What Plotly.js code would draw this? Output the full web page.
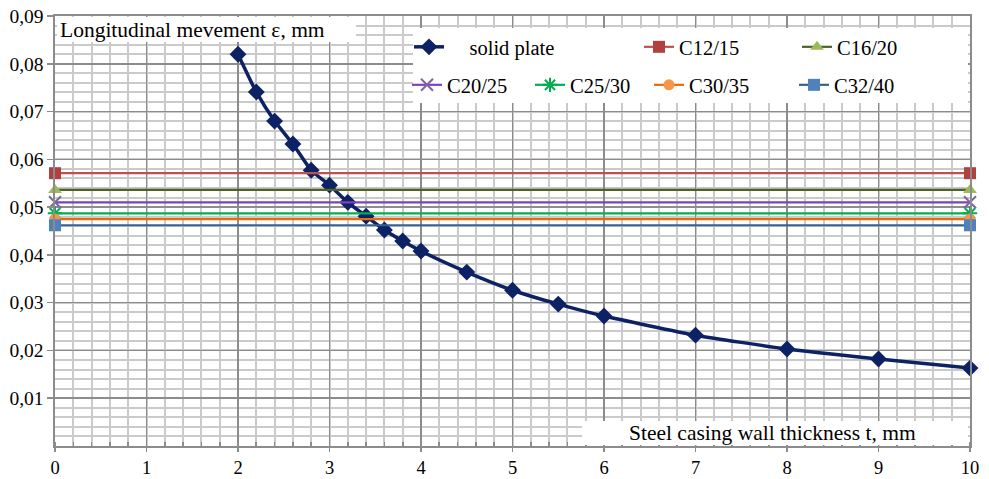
<!DOCTYPE html>
<html><head><meta charset="utf-8">
<script src="https://cdn.plot.ly/plotly-3.0.1.min.js"></script>
<style>html,body{margin:0;padding:0;background:#fff}#c{width:989px;height:479px}</style>
</head><body><div id="c"></div>
<script>
const thickness = [2, 2.2, 2.4, 2.6, 2.8, 3, 3.2, 3.4, 3.6, 3.8, 4, 4.5, 5, 5.5, 6, 7, 8, 9, 10];
const solidPlate = [0.082, 0.0741, 0.068, 0.0632, 0.0577, 0.0546, 0.051, 0.0481, 0.0452, 0.0429, 0.0408, 0.0364, 0.0326, 0.0297, 0.0272, 0.0232, 0.0203, 0.0182, 0.0163];
const concreteNames = ["C12/15", "C16/20", "C20/25", "C25/30", "C30/35", "C32/40"];
const concreteValues = [0.0571, 0.0536, 0.0510, 0.0487, 0.0475, 0.0462];
const concreteX = [0, 10];
const yTicks = [0.01, 0.02, 0.03, 0.04, 0.05, 0.06, 0.07, 0.08, 0.09];
const xTicks = [0, 1, 2, 3, 4, 5, 6, 7, 8, 9, 10];

const FONT = "Liberation Serif";
const lineColors = ["#C0504D", "#4F6228", "#7F40BF", "#00B050", "#E46C0A", "#376092"];
const markerColors = ["#B0413E", "#9BBB59", "#8064A2", "#00B050", "#F79646", "#4F81BD"];
const symbols = ["square", "triangle-up", "x-thin-open", "asterisk-open", "circle", "square"];
const legendIds = ["legend2", "legend3", "legend4", "legend5", "legend6", "legend7"];

const traces = [{
  x: thickness, y: solidPlate, name: "\u00a0\u00a0\u00a0\u00a0solid plate", mode: "lines+markers",
  line: {color: "#0D2264", width: 3.5, shape: "spline", smoothing: 0.5},
  marker: {symbol: "diamond", size: 13, color: "#0D2264"},
  legend: "legend", cliponaxis: false
}];
concreteNames.forEach((n, i) => {
  traces.push({
    x: concreteX, y: [concreteValues[i], concreteValues[i]], name: n, mode: "lines+markers",
    line: {color: lineColors[i], width: 2.2},
    marker: {symbol: symbols[i], size: symbols[i] === "circle" ? 11 : 12, color: markerColors[i],
             line: {color: markerColors[i], width: (symbols[i].indexOf("open") >= 0) ? 2 : 0}},
    legend: legendIds[i], cliponaxis: false
  });
});

const L = 55, T = 16, PW = 915, PH = 430;
const px = v => (v - L) / PW;
const py = v => (T + PH - v) / PH;
function lg(x0, ycenter) {
  return {x: px(x0), xanchor: "left", y: py(ycenter), yanchor: "middle", bgcolor: "rgba(0,0,0,0)",
          borderwidth: 0, font: {family: FONT, size: 20.5, color: "#000"}, orientation: "h",
          itemwidth: 30, tracegroupgap: 0};
}

const layout = {
  width: 989, height: 479,
  margin: {l: L, r: 989 - L - PW, t: T, b: 479 - T - PH},
  paper_bgcolor: "#fff", plot_bgcolor: "#fff",
  separators: ", ",
  font: {family: FONT, size: 19, color: "#000"},
  showlegend: true,
  legend: lg(409, 47),
  legend2: lg(639, 47),
  legend3: lg(797, 47),
  legend4: lg(407, 85),
  legend5: lg(530, 85),
  legend6: lg(649, 85),
  legend7: lg(794, 85),
  xaxis: {
    range: [0, 10], tickvals: xTicks, ticktext: xTicks.map(String),
    showgrid: true, gridcolor: "#8c8c8c", gridwidth: 1.6,
    showline: true, linecolor: "#8c8c8c", linewidth: 1.6, mirror: true,
    ticks: "outside", ticklen: 4, tickcolor: "#8c8c8c", tickwidth: 1.6,
    zeroline: false, tickfont: {family: FONT, size: 18.5, color: "#000"},
    minor: {dtick: 0.2, tick0: 0, showgrid: true, gridcolor: "#cacaca", gridwidth: 2, ticks: "inside", ticklen: 4, tickcolor: "#8c8c8c"}
  },
  yaxis: {
    range: [0, 0.09], tickvals: yTicks, tickformat: ".2f",
    showgrid: true, gridcolor: "#8c8c8c", gridwidth: 1.6,
    showline: true, linecolor: "#8c8c8c", linewidth: 1.6, mirror: true,
    ticks: "outside", ticklen: 6, tickcolor: "#8c8c8c", tickwidth: 1.6,
    zeroline: false, tickfont: {family: FONT, size: 19.5, color: "#000"},
    minor: {dtick: 0.002, tick0: 0, showgrid: true, gridcolor: "#cacaca", gridwidth: 2}
  },
  shapes: [
    {type: "rect", xref: "paper", yref: "paper", x0: px(413), x1: px(968), y0: py(103), y1: py(28), fillcolor: "#fff", line: {width: 0}, layer: "above"},
    {type: "rect", xref: "paper", yref: "paper", x0: px(57), x1: px(356), y0: py(42), y1: py(17), fillcolor: "#fff", line: {width: 0}, layer: "above"},
    {type: "rect", xref: "paper", yref: "paper", x0: px(582), x1: px(968), y0: py(445), y1: py(421), fillcolor: "#fff", line: {width: 0}, layer: "above"}
  ],
  annotations: [
    {xref: "paper", yref: "paper", x: px(192), y: py(30), xanchor: "center", yanchor: "middle", showarrow: false,
     text: "Longitudinal mevement \u03b5, mm", font: {family: FONT, size: 21.5, color: "#000"}},
    {xref: "paper", yref: "paper", x: px(772), y: py(433), xanchor: "center", yanchor: "middle", showarrow: false,
     text: "Steel casing wall thickness t, mm", font: {family: FONT, size: 21.5, color: "#000"}}
  ]
};
Plotly.newPlot("c", traces, layout, {displayModeBar: false, staticPlot: true});
</script></body></html>
